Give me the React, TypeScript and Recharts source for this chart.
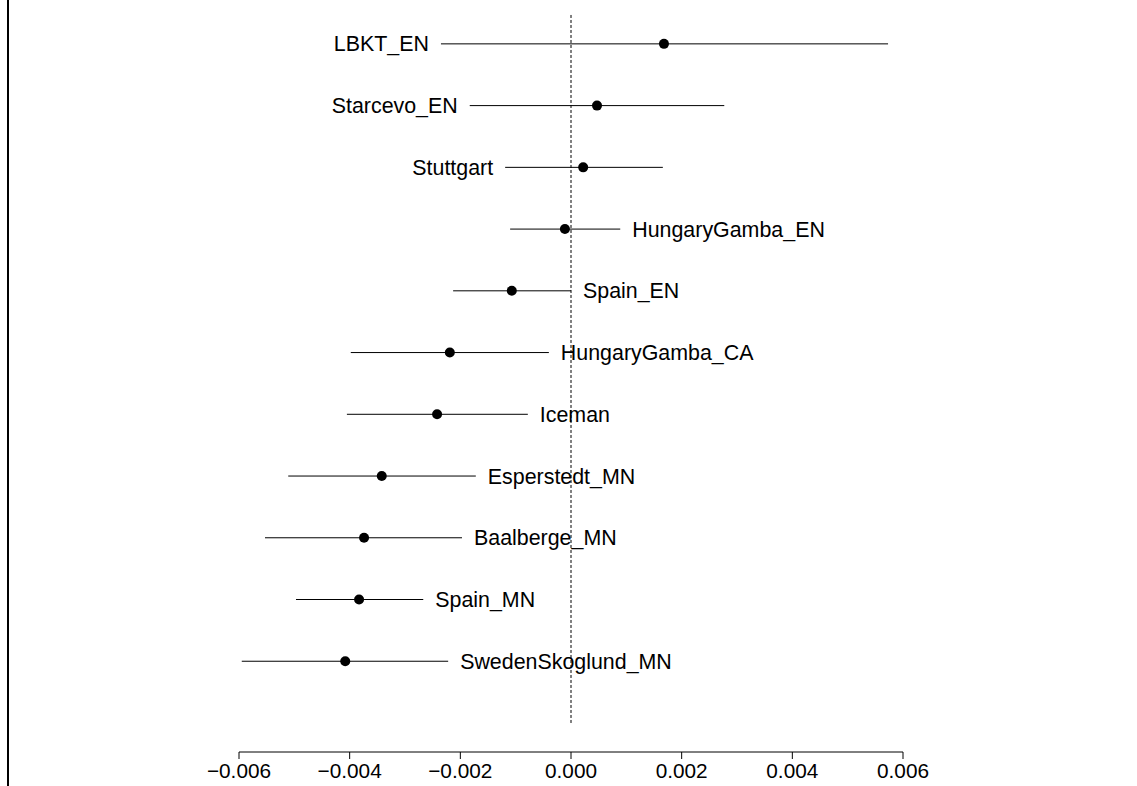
import {
  ScatterChart,
  Scatter,
  XAxis,
  YAxis,
  ErrorBar,
  ReferenceLine
} from 'recharts';

const names = [
  'LBKT_EN', 'Starcevo_EN', 'Stuttgart', 'HungaryGamba_EN', 'Spain_EN',
  'HungaryGamba_CA', 'Iceman', 'Esperstedt_MN', 'Baalberge_MN', 'Spain_MN',
  'SwedenSkoglund_MN'
];
const estimates = [
  0.00168, 0.00047, 0.00022, -0.00011, -0.00107,
  -0.00219, -0.00242, -0.00342, -0.00374, -0.00383, -0.00408
];
const lower = [
  -0.00235, -0.00183, -0.00119, -0.0011, -0.00213,
  -0.00398, -0.00405, -0.00511, -0.00553, -0.00497, -0.00595
];
const upper = [
  0.00573, 0.00277, 0.00166, 0.00089, 0.0,
  -0.0004, -0.00078, -0.00172, -0.00197, -0.00267, -0.00222
];
const xTicks = [-0.006, -0.004, -0.002, 0, 0.002, 0.004, 0.006];

const FONT = '"Liberation Sans", Arial, sans-serif';

const rows = names.map((name, i) => ({
  name,
  y: names.length - i,
  est: estimates[i],
  err: [estimates[i] - lower[i], upper[i] - estimates[i]]
}));

// label sits left of the interval when estimate > 0, right of it otherwise
const leftLabels = rows
  .filter((r, i) => estimates[i] > 0)
  .map((r) => ({ name: r.name, y: r.y, x: lower[names.indexOf(r.name)] }));
const rightLabels = rows
  .filter((r, i) => estimates[i] <= 0)
  .map((r) => ({ name: r.name, y: r.y, x: upper[names.indexOf(r.name)] }));

const fmt = (v: number) => v.toFixed(3).replace('-', '\u2212');

const Dot = (p: any) => <circle cx={p.cx} cy={p.cy} r={5} fill="#000" />;

const labelShape = (side: 'left' | 'right') => (p: any) => (
  <text
    x={side === 'left' ? p.cx - 12 : p.cx + 12}
    y={p.cy}
    dy="0.35em"
    textAnchor={side === 'left' ? 'end' : 'start'}
    fontSize={21.4}
    fontFamily={FONT}
    fill="#000"
  >
    {p.payload.name}
  </text>
);

export default function App() {
  return (
    <div style={{ position: 'absolute', left: 0, top: 0, width: 1137, height: 786, background: '#fff' }}>
      <div style={{ position: 'absolute', left: 7, top: 0, width: 2, height: 786, background: '#000' }} />
      <ScatterChart
        width={1137}
        height={786}
        margin={{ top: 13, right: 234, bottom: 0, left: 239 }}
      >
        <XAxis
          type="number"
          dataKey="x"
          domain={[-0.006, 0.006]}
          ticks={xTicks}
          allowDataOverflow
          tickFormatter={fmt}
          height={34}
          tickSize={7}
          tickMargin={4}
          stroke="#000"
          tick={{ fill: '#000', fontSize: 20.8, fontFamily: FONT }}
        />
        <YAxis type="number" dataKey="y" domain={[-0.47, 11.5]} allowDataOverflow hide width={0} />
        <ReferenceLine
          segment={[{ x: 0, y: 0 }, { x: 0, y: 11.5 }]}
          stroke="#000"
          strokeDasharray="3 2"
          strokeWidth={1}
        />
        <Scatter
          data={rows.map((r) => ({ ...r, x: r.est }))}
          shape={Dot}
          isAnimationActive={false}
        >
          <ErrorBar dataKey="err" direction="x" width={0} stroke="#000" strokeWidth={1} />
        </Scatter>
        <Scatter data={leftLabels} shape={labelShape('left')} isAnimationActive={false} />
        <Scatter data={rightLabels} shape={labelShape('right')} isAnimationActive={false} />
      </ScatterChart>
    </div>
  );
}
